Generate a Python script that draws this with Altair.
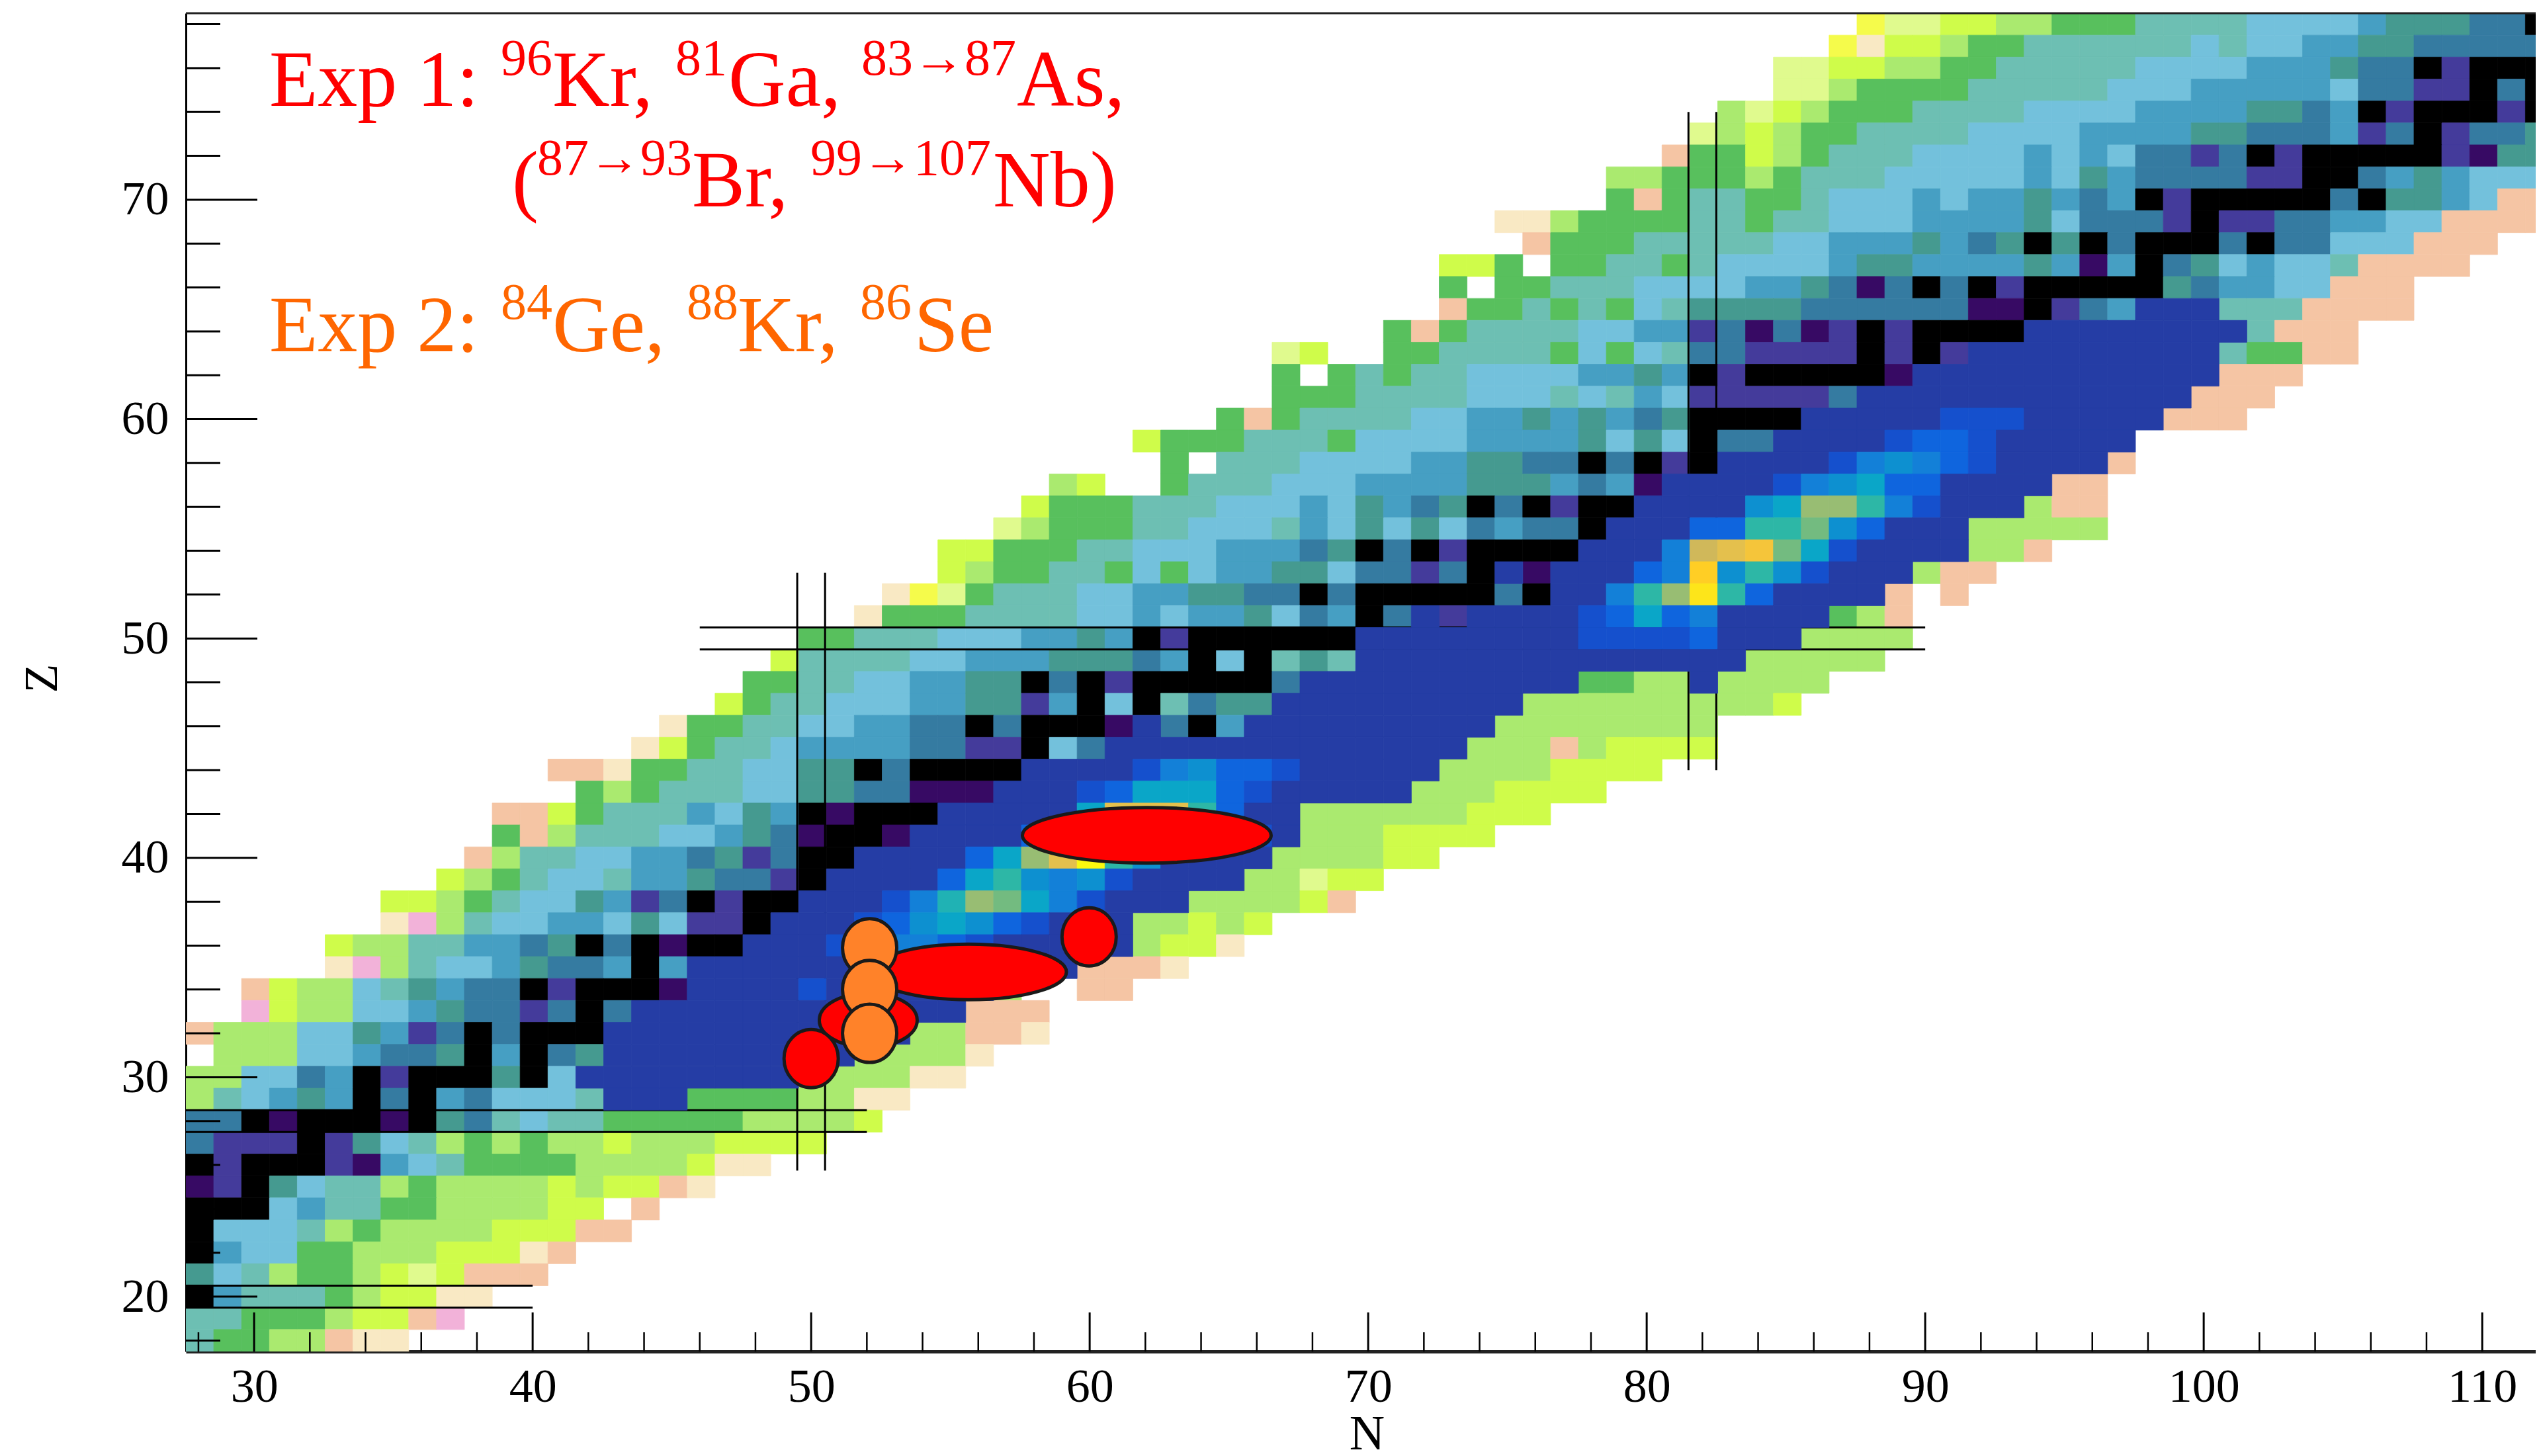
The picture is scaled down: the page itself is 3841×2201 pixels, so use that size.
import re
import altair as alt
import pandas as pd

W, H = 3552, 2023
X_DOMAIN = [27.55, 27.55 + W / 42.1]
Y_DOMAIN = [17.5, 78.5]
FONT = "Liberation Serif"
CELL_SHIFT = 0.05  # the cell grid sits a hair to the right of the axis ticks

PALETTE = {
    "k": "#000000", "D": "#253da5", "p": "#370a64", "v": "#443b9b", "t": "#357ba1",
    "s": "#469fc3", "g": "#459a90", "l": "#73c1dc", "m": "#6dbfb3", "e": "#58c05d",
    "a": "#aaea6f", "y": "#cffc4a", "c": "#e0fa8e", "w": "#f9e9c4", "o": "#f5c5a4",
    "i": "#f2b2d9", "f": "#f5fb4b", "B": "#1550cd", "C": "#0f65de", "E": "#1380d8",
    "F": "#0d90d0", "H": "#0aa6c8", "I": "#20b2b4", "J": "#2db7a6", "K": "#73bb80",
    "L": "#98bd73", "M": "#d0b85a", "N": "#e4c04d", "O": "#f5c53a", "P": "#ffce25",
    "Q": "#fde51a", "R": "#fbf90e",
}
# cell classes drawn above the magic-number lines
CORE = set("DBCEFHIJKLMNOPQR")

# Z: (first N, run-length cells)
ROWS = {
    78: (88, "f c2 y2 a2 e3 m4 l4 s g3 t2 k"),
    77: (87, "f w y2 a e2 m6 l m l2 s2 g2 t5"),
    76: (85, "c2 y2 a2 e2 m5 l4 s3 g t2 k v k3"),
    75: (85, "c2 a e4 m5 l3 s5 l t2 v2 k t k"),
    74: (83, "a c y a e3 m4 l4 s4 g2 t s k v k3 v k"),
    73: (82, "c a y a e2 m4 l4 s4 g2 t3 s v t k v t2 g"),
    72: (81, "o e2 y a e m3 l4 s l s l t2 v t k v k5 v p g2"),
    71: (79, "a2 e3 a e m3 l5 s l g s t4 v2 k2 t s g s l3"),
    70: (79, "e o e m2 e2 m l3 s l s2 g s t s k v k5 t k g2 s l o2"),
    69: (75, "w2 a e4 m2 e m2 l3 s4 g l t3 v k v2 t2 s2 l2 o4"),
    68: (76, "o e3 m5 l2 s3 g s t g k g k t k3 t k t2 l3 o3"),
    67: (73, "y2 e . e2 m2 e m l4 s g2 s4 g s p s k t g l s l2 m o4"),
    66: (73, "e . e2 m3 l4 s2 g t p t k t k v k5 g t s2 l2 o3"),
    65: (73, "o e2 m e m e l m g4 t6 p2 k v t s D3 m3 o4"),
    64: (71, "e o e m4 l2 s2 v t p t p v k v k4 D8 m o3"),
    63: (67, "c y .2 e2 m4 e l e l m t2 v4 k v k v D9 m e2 o2"),
    62: (67, "e . e m e m2 l4 s2 g s k v k5 p D11 o3"),
    61: (67, "e3 m4 l3 m l m s l v5 t D12 o3"),
    60: (65, "e o e m4 l2 s2 g s g s t g k4 D5 B3 D5 o3"),
    59: (62, "y e3 m3 e l4 s4 g l g l k t2 D4 B C2 B D5"),
    58: (63, "e . m3 l4 s2 g2 t2 k t k v k D4 B E F E C B D4 o"),
    57: (59, "a y .2 e m3 l3 s4 g3 s t s p D4 B E F H C2 D4 o2"),
    56: (58, "y e3 m3 l3 s l g s t g k t k v k2 D4 F H L2 J E B D3 a o2"),
    55: (57, "c a e3 m2 l3 m s l g l g l t s t2 k D3 C2 J2 K F C D3 a5"),
    54: (55, "y2 e3 m2 l3 s3 t g k t k v k4 D3 E M N O K H B D4 a2 o"),
    53: (55, "y a e2 m2 e l e l s2 g2 l t2 v t k D p D3 C E P F J F B D3 a o2"),
    52: (53, "w f c e m3 l2 s2 g2 t2 k t k5 t k D2 E J L Q J C D4 o . o"),
    51: (52, "w e3 m4 l2 s l s2 g l t s k t D v D4 B C H C E D4 e a o"),
    50: (50, "e2 m3 l3 s2 g s k v k6 D8 B4 C D3 a4"),
    49: (49, "y m4 l2 s3 g3 t s k l k m g m D14 a5"),
    48: (48, "e2 m2 l2 s2 g2 k t k v k5 t D10 e2 a2 D a4"),
    47: (47, "y e m2 l3 s2 g2 v s k l k m t g2 D9 a9 y"),
    46: (45, "w e2 m2 l2 s2 t2 k t k3 p D t k s D9 a8"),
    45: (44, "w y e m2 l s4 t2 v2 k l t D13 a3 o a y4"),
    44: (41, "o2 w e2 m2 l2 g2 k t k4 D4 B E F C2 B D5 a4 y4"),
    43: (42, "e a e m3 l2 g2 t2 p3 D3 B C H3 C B D5 a3 y4"),
    42: (39, "o2 y e m3 s l g s k p k3 D5 H N3 J C D2 a6 y3"),
    41: (39, "e o a m3 l2 s g t p k2 p D4 C L R N2 J F C B D a3 y4"),
    40: (38, "o a m2 l2 s2 t g v t k2 D4 C H L N R J F D4 a4 y2"),
    39: (37, "y a e m l2 m s2 g t2 v k D4 C H J F E F B D4 a2 c y2"),
    38: (35, "y2 a e m l2 g s v t k v k2 D3 B E I L K H E B D3 a4 y o"),
    37: (35, "w i a m l2 s2 l g l v2 k D3 B C F H F C B D3 a2 y a y"),
    36: (33, "y a2 m2 s2 t g k t k p k2 D3 B C E2 C B D5 a y2 w"),
    35: (33, "w i a m l2 s g t2 s k s D14 o3 w"),
    34: (30, "o y a2 l m g s t2 k v k3 p D4 B D6 a .2 o2"),
    33: (30, "i y a2 l2 s g t2 v t k t D12 o3"),
    32: (28, "o a3 l2 g s v t k t k3 D11 a2 o2 w"),
    31: (29, "a3 l2 s t2 g k s k t g D9 a4 w"),
    30: (28, "a2 l2 t s k v k3 g k l D8 a4 w2"),
    29: (28, "a m l s g s k t k s t l3 m D3 e4 a2 w2"),
    28: (28, "t2 k p k3 p k g t m l m2 e5 a4 y"),
    27: (28, "t v3 k v g l m a e a e a2 y a3 y4"),
    26: (28, "k v k3 v p s l m e4 a4 y w2"),
    25: (28, "p v k g l m2 a e a4 y a y2 o w"),
    24: (28, "k3 l s m2 e2 a4 y2 . o"),
    23: (28, "k l3 m a e a4 y3 o2"),
    22: (28, "k s l2 e2 a3 y3 w o"),
    21: (28, "g l m a e2 a y c y o3"),
    20: (28, "k s m3 e a y2 w2"),
    19: (28, "m2 e3 a y2 o i"),
    18: (28, "m e2 a2 o w2"),
}

X_MAJOR = list(range(30, 111, 10))
X_MINOR = [n for n in range(28, 112, 2) if n % 10]
Y_MAJOR = list(range(20, 71, 10))
Y_MINOR = [z for z in range(18, 79, 2) if z % 10]

# (N from, N to, Z)
H_LINES = [(46, 90, 49.5), (46, 90, 50.5), (27.55, 52, 27.5), (27.55, 52, 28.5), (27.55, 40, 19.5), (27.55, 40, 20.5)]
# (N, Z from, Z to)
V_LINES = [(49.5, 25.75, 53), (50.5, 25.75, 53), (81.5, 44, 74), (82.5, 44, 74)]

# (N, Z, half width px, half height px, fill), back to front
MARKERS = [
    (62.05, 41.03, 188, 42, "#ff0000"),
    (52.05, 32.6, 74, 41, "#ff0000"),
    (55.65, 34.8, 148, 42, "#ff0000"),
    (50.0, 30.85, 41, 44, "#ff0000"),
    (59.98, 36.4, 41, 44, "#ff0000"),
    (52.1, 35.9, 41, 44, "#ff8229"),
    (52.1, 34.0, 41, 44, "#ff8229"),
    (52.1, 32.0, 41, 44, "#ff8229"),
]

RED, ORANGE = "#ff0000", "#ff6600"
BIG, SUP = 120, 78
# (text, left px, baseline px, size, colour) in page pixels
NOTES = [
    ("Exp 1:", 408, 160, BIG, RED), ("96", 758, 113, SUP, RED), ("Kr,", 836, 160, BIG, RED),
    ("81", 1022, 113, SUP, RED), ("Ga,", 1102, 160, BIG, RED), ("83→87", 1303, 113, SUP, RED),
    ("As,", 1538, 160, BIG, RED),
    ("(", 775, 312, BIG, RED), ("87→93", 813, 264, SUP, RED), ("Br,", 1047, 312, BIG, RED),
    ("99→107", 1226, 264, SUP, RED), ("Nb)", 1502, 312, BIG, RED),
    ("Exp 2:", 408, 531, BIG, ORANGE), ("84", 758, 482, SUP, ORANGE), ("Ge,", 836, 531, BIG, ORANGE),
    ("88", 1039, 482, SUP, ORANGE), ("Kr,", 1116, 531, BIG, ORANGE), ("86", 1301, 482, SUP, ORANGE),
    ("Se", 1383, 531, BIG, ORANGE),
]


def expand(cells):
    out = []
    for tok in cells.split():
        m = re.fullmatch(r"([.\w])(\d*)", tok)
        out.extend(m.group(1) * int(m.group(2) or 1))
    return out


records = []
for z, (start, cells) in ROWS.items():
    for i, c in enumerate(expand(cells)):
        if c != ".":
            n = start + i + CELL_SHIFT
            records.append({"n0": n - 0.5, "n1": n + 0.5, "z0": z - 0.5, "z1": z + 0.5, "c": c})
cells_df = pd.DataFrame(records)
under = cells_df[~cells_df.c.isin(CORE)]
over = cells_df[cells_df.c.isin(CORE)]

xs = alt.Scale(domain=X_DOMAIN, nice=False, zero=False)
ys = alt.Scale(domain=Y_DOMAIN, nice=False, zero=False)
cs = alt.Scale(domain=list(PALETTE), range=list(PALETTE.values()))


def cell_layer(df):
    return alt.Chart(df).mark_rect(strokeWidth=0.8, clip=True).encode(
        x=alt.X("n0:Q", scale=xs, axis=None),
        x2="n1:Q",
        y=alt.Y("z0:Q", scale=ys, axis=None),
        y2="z1:Q",
        color=alt.Color("c:N", scale=cs, legend=None),
        stroke=alt.Stroke("c:N", scale=cs, legend=None),
    )


def x_ticks(values, length, width):
    return alt.Chart(pd.DataFrame({"n": values})).mark_rule(color="black", strokeWidth=width).encode(
        x=alt.X("n:Q", scale=xs, axis=None), y=alt.value(H), y2=alt.value(H - length))


def y_ticks(values, length, width):
    return alt.Chart(pd.DataFrame({"z": values})).mark_rule(color="black", strokeWidth=width).encode(
        y=alt.Y("z:Q", scale=ys, axis=None), x=alt.value(0), x2=alt.value(length))


h_df = pd.DataFrame(H_LINES, columns=["a", "b", "z"])
v_df = pd.DataFrame(V_LINES, columns=["n", "a", "b"])
h_rules = alt.Chart(h_df).mark_rule(color="black", strokeWidth=3).encode(
    x=alt.X("a:Q", scale=xs, axis=None), x2="b:Q", y=alt.Y("z:Q", scale=ys, axis=None))
v_rules = alt.Chart(v_df).mark_rule(color="black", strokeWidth=3).encode(
    x=alt.X("n:Q", scale=xs, axis=None), y=alt.Y("a:Q", scale=ys, axis=None), y2="b:Q")

layers = [cell_layer(under), h_rules, v_rules, cell_layer(over)]

layers += [
    x_ticks(X_MINOR, 29, 2.5), x_ticks(X_MAJOR, 59, 3),
    y_ticks(Y_MINOR, 52, 3), y_ticks(Y_MAJOR, 108, 3),
    alt.Chart(alt.Data(values=[{}])).mark_rule(color="#222222", strokeWidth=3).encode(
        x=alt.value(0), x2=alt.value(W), y=alt.value(0)),
]

for n, z, rx, ry, fill in MARKERS:
    k = ry / rx
    path = f"M-1,0A1,{k:.4f},0,1,1,1,0A1,{k:.4f},0,1,1,-1,0Z"
    layers.append(
        alt.Chart(pd.DataFrame({"n": [n], "z": [z]})).mark_point(
            shape=path, size=(2 * rx) ** 2, filled=True, fill=fill, stroke="#1a1a1a",
            strokeWidth=5, opacity=1, fillOpacity=1, strokeOpacity=1,
        ).encode(x=alt.X("n:Q", scale=xs, axis=None), y=alt.Y("z:Q", scale=ys, axis=None))
    )

for text, px, py, size, colour in NOTES:
    layers.append(
        alt.Chart(alt.Data(values=[{}])).mark_text(
            align="left", baseline="alphabetic", font=FONT, fontSize=size, color=colour,
        ).encode(x=alt.value(px - 282), y=alt.value(py - 20), text=alt.value(text))
    )

# the axes live on their own layer, over a frame-only dataset
axis_layer = alt.Chart(pd.DataFrame({"n": X_DOMAIN, "z": Y_DOMAIN})).mark_point(opacity=0).encode(
    x=alt.X("n:Q", scale=xs, axis=alt.Axis(
        values=X_MAJOR, ticks=False, grid=False, labelFont=FONT, labelFontSize=72, labelColor="black",
        labelPadding=18, labelFlush=False, domainColor="#222222", domainWidth=5, title="N",
        titleFont=FONT, titleFontSize=74, titleFontWeight="normal", titleColor="black",
        titleX=1785, titleY=147, titleBaseline="alphabetic", format="d")),
    y=alt.Y("z:Q", scale=ys, axis=alt.Axis(
        values=Y_MAJOR, ticks=False, grid=False, labelFont=FONT, labelFontSize=72, labelColor="black",
        labelPadding=26, domainColor="black", domainWidth=3, title="Z", titleFont=FONT,
        titleFontSize=72, titleFontWeight="normal", titleColor="black", titleX=-196, titleY=1005,
        titleBaseline="alphabetic", format="d")),
)
layers.append(axis_layer)

chart = alt.layer(*layers).resolve_axis(x="independent", y="independent").properties(
    width=W, height=H,
    autosize=alt.AutoSizeParams(type="none"),
    padding={"left": 273, "top": 12, "right": 0, "bottom": 150},
    background="white",
).configure_view(stroke=None)

chart.save("out.html", embed_options={"renderer": "svg", "actions": False})
